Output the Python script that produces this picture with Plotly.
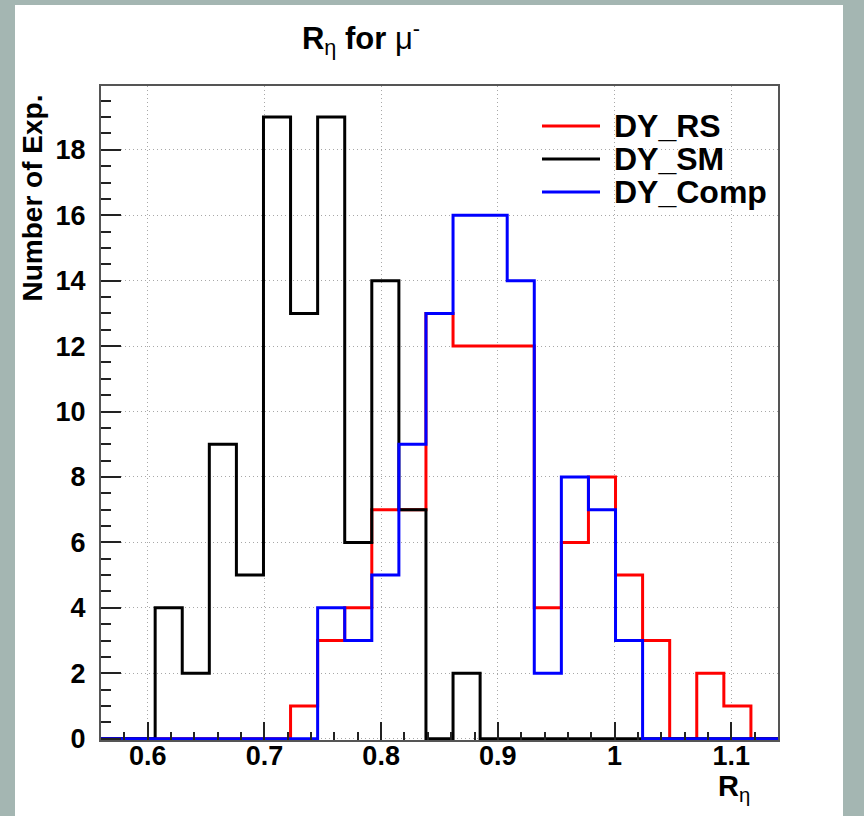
import numpy as np
import plotly.graph_objects as go

# ---- data ----
x_min, x_max, n_bins = 0.56, 1.14, 25
dy_rs   = [0, 0, 0, 0, 0, 0, 0, 1, 3, 4, 7, 7, 13, 12, 12, 12, 4, 6, 8, 5, 3, 0, 2, 1, 0]
dy_sm   = [0, 0, 4, 2, 9, 5, 19, 13, 19, 6, 14, 7, 0, 2, 0, 0, 0, 0, 0, 0, 0, 0, 0, 0, 0]
dy_comp = [0, 0, 0, 0, 0, 0, 0, 0, 4, 3, 5, 9, 13, 16, 16, 14, 2, 8, 7, 3, 0, 0, 0, 0, 0]
series_names = ["DY_RS", "DY_SM", "DY_Comp"]
series_colors = ["#ff0000", "#000000", "#0000ff"]
x_tickvals = [0.6, 0.7, 0.8, 0.9, 1.0, 1.1]
x_ticktext = ["0.6", "0.7", "0.8", "0.9", "1", "1.1"]
y_tickvals = [0, 2, 4, 6, 8, 10, 12, 14, 16, 18]
y_ticktext = ["0", "2", "4", "6", "8", "10", "12", "14", "16", "18"]

edges = np.linspace(x_min, x_max, n_bins + 1)

FONT = "Liberation Sans"
W, H = 864, 816
L, R, T, B = 101, 86, 86, 76
pw, ph = W - L - R, H - T - B

def px_x(p):
    return (p - L) / pw

def px_y(p):
    return (H - B - p) / ph

fig = go.Figure()
for name, color, counts in zip(series_names, series_colors, [dy_rs, dy_sm, dy_comp]):
    ys = list(counts) + [counts[-1]]
    fig.add_trace(go.Scatter(
        x=edges, y=ys, mode="lines", name=name, showlegend=False,
        line=dict(color=color, width=3, shape="hv"),
    ))

axis_common = dict(
    showline=True, linecolor="#555555", linewidth=2, mirror=True,
    ticks="inside", tickcolor="#222222", tickwidth=1.5,
    showgrid=True, gridcolor="#a8a8a8", griddash="1px,3px", gridwidth=1,
    zeroline=False,
    tickfont=dict(family=FONT, size=27, color="black", weight="bold"),
)

fig.update_xaxes(
    range=[x_min, x_max], tickmode="array", tickvals=x_tickvals, ticktext=x_ticktext,
    ticklen=18, ticklabelstandoff=-9,
    minor=dict(tickmode="linear", tick0=0.6, dtick=0.02, ticks="inside", ticklen=8,
               tickcolor="#222222", tickwidth=1.5, showgrid=False),
    **axis_common,
)
fig.update_yaxes(
    range=[-0.04, 19.95], tickmode="array", tickvals=y_tickvals, ticktext=y_ticktext,
    ticklen=20, ticklabelstandoff=8,
    minor=dict(tickmode="linear", tick0=0, dtick=0.5, ticks="inside", ticklen=10,
               tickcolor="#222222", tickwidth=1.5, showgrid=False),
    **axis_common,
)

# legend drawn as lines + text (ROOT-like compact layout)
legend_rows_px = [126, 159, 192]
shapes = [dict(
    type="rect", xref="paper", yref="paper", layer="below",
    x0=px_x(15), x1=px_x(843), y0=px_y(820), y1=px_y(5),
    fillcolor="white", line=dict(width=0),
)]
annotations = []
for name, color, ypx in zip(series_names, series_colors, legend_rows_px):
    shapes.append(dict(type="line", xref="paper", yref="paper",
                       x0=px_x(542), x1=px_x(600), y0=px_y(ypx), y1=px_y(ypx),
                       line=dict(color=color, width=3)))
    annotations.append(dict(text="<b>%s</b>" % name, xref="paper", yref="paper",
                            x=px_x(612), y=px_y(ypx), xanchor="left", yanchor="middle",
                            showarrow=False,
                            font=dict(family=FONT, size=32, color="black")))

annotations += [
    dict(text="<b>Number of Exp.</b>", textangle=-90,
         xref="paper", yref="paper", x=px_x(32), y=px_y(93),
         xanchor="center", yanchor="top", showarrow=False,
         font=dict(family=FONT, size=28, color="black")),
    dict(text="<b>R</b><sub>η</sub>",
         xref="paper", yref="paper", x=px_x(734), y=px_y(788),
         xanchor="center", yanchor="middle", showarrow=False,
         font=dict(family=FONT, size=29, color="black")),
]

fig.update_layout(
    width=W, height=H, autosize=False,
    margin=dict(l=L, r=R, t=T, b=B),
    paper_bgcolor="#a4b6b2", plot_bgcolor="white",
    title=dict(
        text="<b>R</b><sub>η</sub><b> for </b>μ<sup>-</sup>",
        x=361 / W, xref="container", xanchor="center",
        y=1 - 38 / H, yref="container", yanchor="middle",
        font=dict(family=FONT, size=31, color="black"),
    ),
    showlegend=False,
    shapes=shapes,
    annotations=annotations,
)

fig.write_html(
    "out.html",
    config={"displayModeBar": False},
    post_script="document.body.style.margin='0';document.body.style.background='#a4b6b2';",
)
